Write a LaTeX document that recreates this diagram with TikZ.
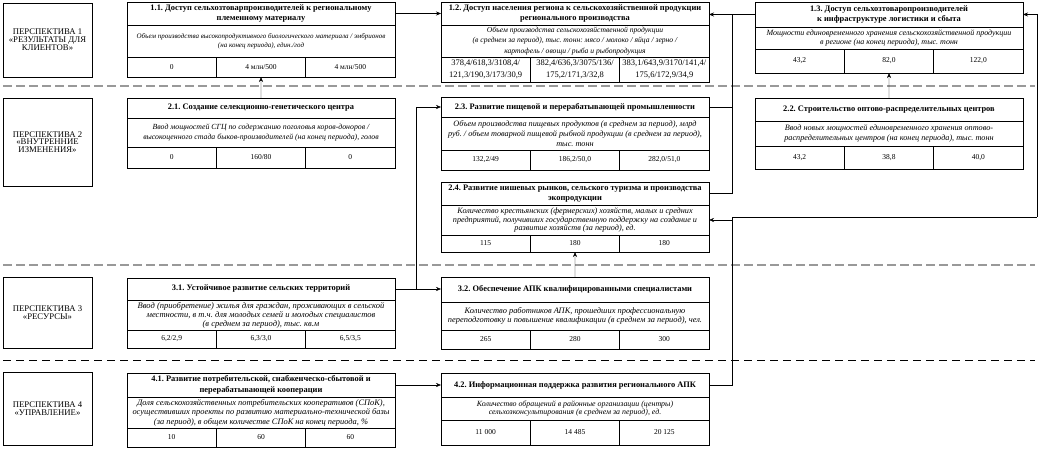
\documentclass[tikz,border=0pt]{standalone}
\usepackage{fontspec}
\setmainfont{Liberation Serif}
\usepackage{tikz}
\usetikzlibrary{arrows}
\usetikzlibrary{arrows.meta}
\tikzstyle{arrow} = [->,>={Stealth[length=5pt,width=4pt]}]
\tikzset{
  persp/.style={draw, line width=0.8pt, outer sep=0pt, minimum width=89pt, align=center,
    font=\fontsize{8.7}{7.6}\selectfont},
  head/.style={draw, line width=0.8pt, outer sep=0pt, inner sep=0.5pt,
    minimum width=268pt, align=center, font=\bfseries\fontsize{8.4}{10.5}\selectfont},
  ind/.style={draw, line width=0.8pt, outer sep=0pt, inner sep=0.5pt,
    minimum width=268pt, align=center},
  val/.style={draw, line width=0.8pt, outer sep=0pt, inner sep=0.5pt,
    minimum width=268pt/3, align=center, font=\fontsize{7.5}{10.5}\selectfont},
  sepline/.style={dash pattern=on 9pt off 4pt, line width=1.6pt, gray!80},
}
% header + indicator of one block (#7 size, #8 leading of the indicator)
\newcommand{\blk}[8]{%
  \node[head, minimum height=#3, anchor=north west] (#1) at #2 {#4};
  \node[ind, minimum height=#5, anchor=north west, font=\itshape\fontsize{#7}{#8}\selectfont] (#1i) at (#1.south west) {#6};
}
% row of three values
\newcommand{\vals}[6][]{%
  \node[val, #1, minimum height=#3, anchor=north west] (#2a) at (#2i.south west) {#4};
  \node[val, #1, minimum height=#3, anchor=north west] (#2b) at (#2a.north east) {#5};
  \node[val, #1, minimum height=#3, anchor=north west] (#2c) at (#2b.north east) {#6};
}

\begin{document}
\frenchspacing
\begin{tikzpicture}[x=1pt, y=-1pt]
\useasboundingbox (0,0) rectangle (1047,470);

% perspectives
\node[persp, minimum height=74pt, anchor=north west] (p1) at (3,3) {ПЕРСПЕКТИВА 1\\«РЕЗУЛЬТАТЫ ДЛЯ\\КЛИЕНТОВ»};
\node[persp, minimum height=88pt, anchor=north west] (p2) at (3,98) {ПЕРСПЕКТИВА 2\\«ВНУТРЕННИЕ\\ИЗМЕНЕНИЯ»};
\node[persp, minimum height=71pt, anchor=north west] (p3) at (3,277) {ПЕРСПЕКТИВА 3\\«РЕСУРСЫ»};
\node[persp, minimum height=73pt, anchor=north west] (p4) at (3,372) {ПЕРСПЕКТИВА 4\\«УПРАВЛЕНИЕ»};

% separators
\draw[sepline] (3,86) -- (1035,86);
\draw[sepline] (3,265) -- (1035,265);
\draw[sepline, black, line width=0.8pt, dash pattern=on 8pt off 5pt] (3,360) -- (1035,360);

% perspective 1
\blk{b11}{(127,2)}{23pt}{1.1. Доступ сельхозтоварпроизводителей к региональному\\ племенному материалу}
  {32pt}{Объем производства высокопродуктивного биологического материала / эмбрионов\\ (на конец периода), един./год}{7}{8.5}
\vals{b11}{20pt}{0}{4 млн/500}{4 млн/500}
\blk{b12}{(441,2)}{23pt}{1.2. Доступ населения региона к сельскохозяйственной продукции\\ регионального производства}
  {32pt}{Объем производства сельскохозяйственной продукции\\ (в среднем за период), тыс. тонн: мясо / молоко / яйца / зерно /\\ картофель / овощи / рыба и рыбопродукция}{7.6}{10.5}
\vals[font=\fontsize{8.5}{11.5}\selectfont]{b12}{25pt}{378,4/618,3/3108,4/\\121,3/190,3/173/30,9}{382,4/636,3/3075/136/\\175,2/171,3/32,8}{383,1/643,9/3170/141,4/\\175,6/172,9/34,9}
\blk{b13}{(755,2)}{25pt}{1.3. Доступ сельхозтоваропроизводителей\\ к инфраструктуре логистики и сбыта}
  {22pt}{Мощности единовременного хранения сельскохозяйственной продукции\\ в регионе (на конец периода), тыс. тонн}{8}{9.5}
\vals{b13}{24pt}{43,2}{82,0}{122,0}

% perspective 2
\blk{b21}{(127,98)}{20pt}{2.1. Создание селекционно-генетического центра}
  {29pt}{Ввод мощностей СГЦ по содержанию поголовья коров-доноров /\\ высокоценного стада быков-производителей (на конец периода), голов}{7.8}{10.5}
\vals{b21}{21pt}{0}{160/80}{0}
\blk{b22}{(755,98)}{23pt}{2.2. Строительство оптово-распределительных центров}
  {25pt}{Ввод новых мощностей единовременного хранения оптово-\\распределительных центров (на конец периода), тыс. тонн}{8.2}{9.5}
\vals{b22}{23pt}{43,2}{38,8}{40,0}
\blk{b23}{(441,97)}{20pt}{2.3. Развитие пищевой и перерабатывающей промышленности}
  {33pt}{Объем производства пищевых продуктов (в среднем за период), млрд\\ руб. / объем товарной пищевой рыбной продукции (в среднем за период),\\ тыс. тонн}{8.2}{10}
\vals{b23}{20pt}{132,2/49}{186,2/50,0}{282,0/51,0}
\blk{b24}{(441,182)}{23pt}{2.4. Развитие нишевых рынков, сельского туризма и производства\\ экопродукции}
  {30pt}{Количество крестьянских (фермерских) хозяйств, малых и средних\\ предприятий, получивших государственную поддержку на создание и\\ развитие хозяйств (за период), ед.}{8.2}{7.2}
\vals{b24}{17pt}{115}{180}{180}

% perspective 3
\blk{b31}{(127,278)}{22pt}{3.1. Устойчивое развитие сельских территорий}
  {30pt}{Ввод (приобретение) жилья для граждан, проживающих в сельской\\ местности, в т.ч. для молодых семей и молодых специалистов\\ (в среднем за период), тыс. кв.м}{8.5}{9}
\vals{b31}{18pt}{6,2/2,9}{6,3/3,0}{6,5/3,5}
\blk{b32}{(441,277)}{25pt}{3.2. Обеспечение АПК квалифицированными специалистами}
  {28pt}{Количество работников АПК, прошедших профессиональную\\ переподготовку и повышение квалификации (в среднем за период), чел.}{8.4}{8.5}
\vals{b32}{19pt}{265}{280}{300}

% perspective 4
\blk{b41}{(127,373)}{24pt}{4.1. Развитие потребительской, снабженческо-сбытовой и\\ перерабатывающей кооперации}
  {31pt}{Доля сельскохозяйственных потребительских кооперативов (СПоК),\\ осуществивших проекты по развитию материально-технической базы\\ (за период), в общем количестве СПоК на конец периода, \%}{8.4}{9.5}
\vals{b41}{19pt}{10}{60}{60}
\blk{b42}{(441,373)}{24pt}{4.2. Информационная поддержка развития регионального АПК}
  {23pt}{Количество обращений в районные организации (центры)\\ сельхозконсультирования (в среднем за период), ед.}{7.9}{8}
\vals{b42}{25pt}{11 000}{14 485}{20 125}

% junctions
\coordinate (up) at (732,14);
\coordinate (k) at (732,217);
\coordinate (r) at (1037,217);
\coordinate (m) at (416,289);

% links
\draw[arrow] (b11.east) -- (b12.west);
\draw[arrow] (b13.west) -- (b13.west -| b12.east);
\draw (b23.east) -| (up);
\draw (b24.east) -| (b23.east -| up);
\draw[arrow] (b21.north) -- (b11b.south);
\draw[arrow] (b22.north) -- (b13b.south);
\draw[arrow] (b32.north) -- (b24b.south);
\draw[arrow] (b31.east) -- (b31.east -| b32.west);
\draw[arrow] (m) |- (b23.west);
\draw[arrow] (b41.east) -- (b42.west);
\draw (b42.east) -| (k) -- (r);
\draw[arrow] (r) |- (b13.east);
\draw[arrow] (b24i.east -| k) -- (b24i.east);
\end{tikzpicture}
\end{document}
